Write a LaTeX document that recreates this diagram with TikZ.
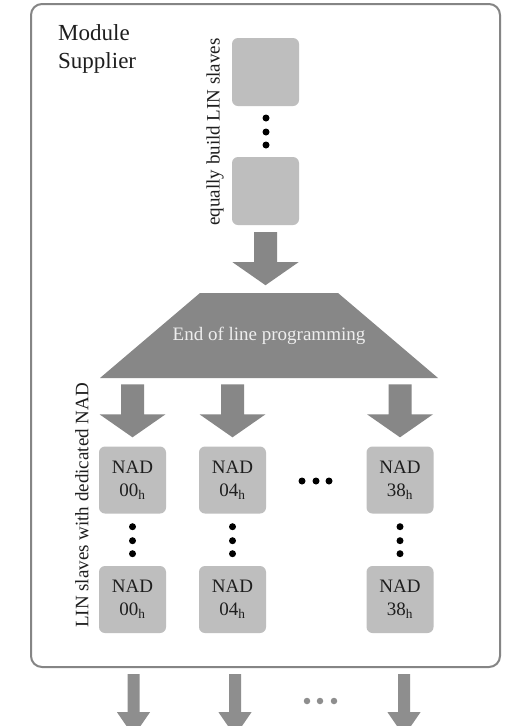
\documentclass[tikz,border=0pt]{standalone}
\usepackage{fontspec}
\setmainfont{Liberation Serif}
\usetikzlibrary{calc}
\definecolor{boxgray}{HTML}{BEBEBE}
\definecolor{arrgray}{HTML}{878787}
\definecolor{framegray}{HTML}{858585}
\definecolor{txtgray}{HTML}{1E1E1E}
\definecolor{lightarr}{HTML}{8E8E8E}
\definecolor{eoltext}{HTML}{EEEEEE}
\begin{document}
\begin{tikzpicture}[x=1pt,y=-1pt,
  slave/.style={fill=boxgray, rounded corners=6pt, minimum width=67pt, minimum height=67pt,
    inner sep=0pt, font=\fontsize{19}{23}\selectfont, text=txtgray, align=center},
  blank/.style={fill=boxgray, rounded corners=6pt, minimum width=67pt, minimum height=68pt, inner sep=0pt},
  bdot/.style={circle, fill=black, inner sep=0pt, minimum size=7pt},
  gdot/.style={circle, fill=lightarr, inner sep=0pt, minimum size=7pt},
  vlabel/.style={rotate=90, font=\fontsize{19}{23}\selectfont, text=txtgray, inner sep=0pt},
  bigarrow/.pic={\fill[arrgray] (-11.5,0) -- (11.5,0) -- (11.5,30) -- (33,30) -- (0,53) -- (-33,30) -- (-11.5,30) -- cycle;},
  smallarrow/.pic={\fill[lightarr] (-6,0) -- (6,0) -- (6,38) -- (16.5,38) -- (0,62) -- (-16.5,38) -- (-6,38) -- cycle;}
]
\useasboundingbox (0,0) rectangle (530,726);
\fill[white] (0,0) rectangle (530,726);

% frame
\draw[framegray, line width=2pt, rounded corners=11pt] (31,4) rectangle (500,667);
\node[anchor=north west, inner sep=0pt, align=left, text=txtgray,
  font=\fontsize{23}{28}\selectfont] (title) at (58,24) {Module\\Supplier};

% equally built slaves
\node[blank] (s1) at (265.5,72) {};
\node[blank] (s2) at (265.5,191) {};
\node[bdot] (sd1) at (266,118) {};
\node[bdot] (sd2) at (266,132) {};
\node[bdot] (sd3) at (266,145) {};
\node[vlabel] (eqlabel) at (215,132) {equally build LIN slaves};

\pic at ($(s2.south)+(0,7)$) {bigarrow};

% end of line programming
\fill[arrgray] (200,293) -- (338,293) -- (438,378) -- (100,378) -- cycle;
\node[font=\fontsize{19}{23}\selectfont, text=eoltext] (eol) at (269,336) {End of line programming};

% programmed slaves
\node[slave] (a1) at (132.5,480) {NAD\\00\textsubscript{h}};
\node[slave] (b1) at (232.5,480) {NAD\\04\textsubscript{h}};
\node[slave] (c1) at (400,480) {NAD\\38\textsubscript{h}};
\node[slave] (a2) at (132.5,599.5) {NAD\\00\textsubscript{h}};
\node[slave] (b2) at (232.5,599.5) {NAD\\04\textsubscript{h}};
\node[slave] (c2) at (400,599.5) {NAD\\38\textsubscript{h}};

\foreach \n in {a1,b1,c1}{
  \pic at ($(\n.north)+(0,-62)$) {bigarrow};
  \node[bdot] (\n d1) at ($(\n.south)+(0,13)$) {};
  \node[bdot] (\n d2) at ($(\n.south)+(0,27)$) {};
  \node[bdot] (\n d3) at ($(\n.south)+(0,40)$) {};
}
\node[bdot] (hd1) at (302,481) {};
\node[bdot] (hd2) at (316,481) {};
\node[bdot] (hd3) at (329,481) {};

\node[vlabel] (nadlabel) at (82,505.5) {LIN slaves with dedicated NAD};

% outgoing arrows
\pic at ($(a2.south)+(1,41)$) {smallarrow};
\pic at ($(b2.south)+(2.5,41)$) {smallarrow};
\pic at ($(c2.south)+(4,41)$) {smallarrow};
\node[gdot, minimum size=6.5pt] (od1) at (307,701) {};
\node[gdot, minimum size=6.5pt] (od2) at (320,701) {};
\node[gdot, minimum size=6.5pt] (od3) at (334,701) {};
\end{tikzpicture}
\end{document}
